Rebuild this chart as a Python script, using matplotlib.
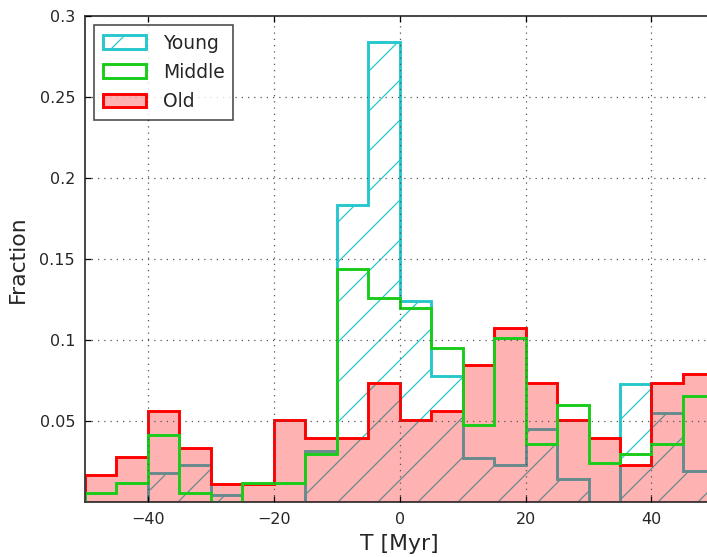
import numpy as np
import matplotlib
matplotlib.use("Agg")
import matplotlib.pyplot as plt

# bin edges of the T histogram (Myr)
binEdges = np.arange(-50, 55, 5)
binCentres = 0.5 * (binEdges[:-1] + binEdges[1:])

# fraction per bin
young = [0.0, 0.0, 0.0177, 0.0229, 0.0043, 0.0, 0.0, 0.0316, 0.1832, 0.2838,
         0.124, 0.0776, 0.027, 0.0229, 0.0452, 0.014, 0.0, 0.073, 0.0549, 0.0192]
middle = [0.0058, 0.0115, 0.0415, 0.0054, 0.0, 0.012, 0.012, 0.0297, 0.1436, 0.1256,
          0.1198, 0.0951, 0.0476, 0.1013, 0.0357, 0.0596, 0.0239, 0.0297, 0.0357, 0.0652]
old = [0.0167, 0.028, 0.056, 0.0332, 0.011, 0.011, 0.0505, 0.0394, 0.0394, 0.0734,
       0.0507, 0.0563, 0.0848, 0.1075, 0.0734, 0.0507, 0.0394, 0.0229, 0.0734, 0.079]

DPI = 120
plt.rcParams['hatch.linewidth'] = 0.75
textColour = '#262626'

fig = plt.figure(figsize=(707.4 / DPI, 557.4 / DPI), dpi=DPI)
ax = fig.add_axes([0.1202, 0.0987, 0.8897, 0.8725])

ax.hist(binCentres, bins=binEdges, weights=young, histtype='stepfilled',
        facecolor='none', edgecolor=(0.15, 0.78, 0.8), hatch='/', lw=1.75, label='Young')
ax.hist(binCentres, bins=binEdges, weights=middle, histtype='step',
        color=(0.1, 0.8, 0.1), lw=1.75, label='Middle')
ax.hist(binCentres, bins=binEdges, weights=old, histtype='stepfilled',
        facecolor=(1, 0, 0, 0.3), edgecolor='r', lw=1.75, label='Old')

ax.set_xlim(-50, 50)
ax.set_ylim(0, 0.3)
ax.set_xticks([-40, -20, 0, 20, 40])
ax.set_yticks([0.05, 0.1, 0.15, 0.2, 0.25, 0.3])
ax.set_yticklabels(['0.05', '0.1', '0.15', '0.2', '0.25', '0.3'])
ax.tick_params(direction='in', length=3.75, width=0.75, labelsize=9.6,
               labelcolor=textColour, pad=6, top=True, right=False)
ax.set_axisbelow(False)
ax.grid(True, linestyle=(0, (1, 4)), color='#555555', lw=0.75)
for s in ax.spines.values():
    s.set_color('#3a3a3a')
    s.set_linewidth(1.1)
ax.spines['right'].set_visible(False)

ax.set_xlabel('T [Myr]', fontsize=13.1, color=textColour, labelpad=4)
ax.set_ylabel('Fraction', fontsize=13.1, color=textColour, labelpad=7)

leg = ax.legend(loc='upper left', fontsize=11.25, fancybox=False, handlelength=2.3,
                handleheight=0.75, labelspacing=0.55, borderpad=0.45,
                handletextpad=0.9, borderaxespad=0.5)
leg.get_frame().set_edgecolor('#222222')
leg.get_frame().set_linewidth(1.0)
for t in leg.get_texts():
    t.set_color(textColour)

fig.savefig('out.png', dpi=DPI)
